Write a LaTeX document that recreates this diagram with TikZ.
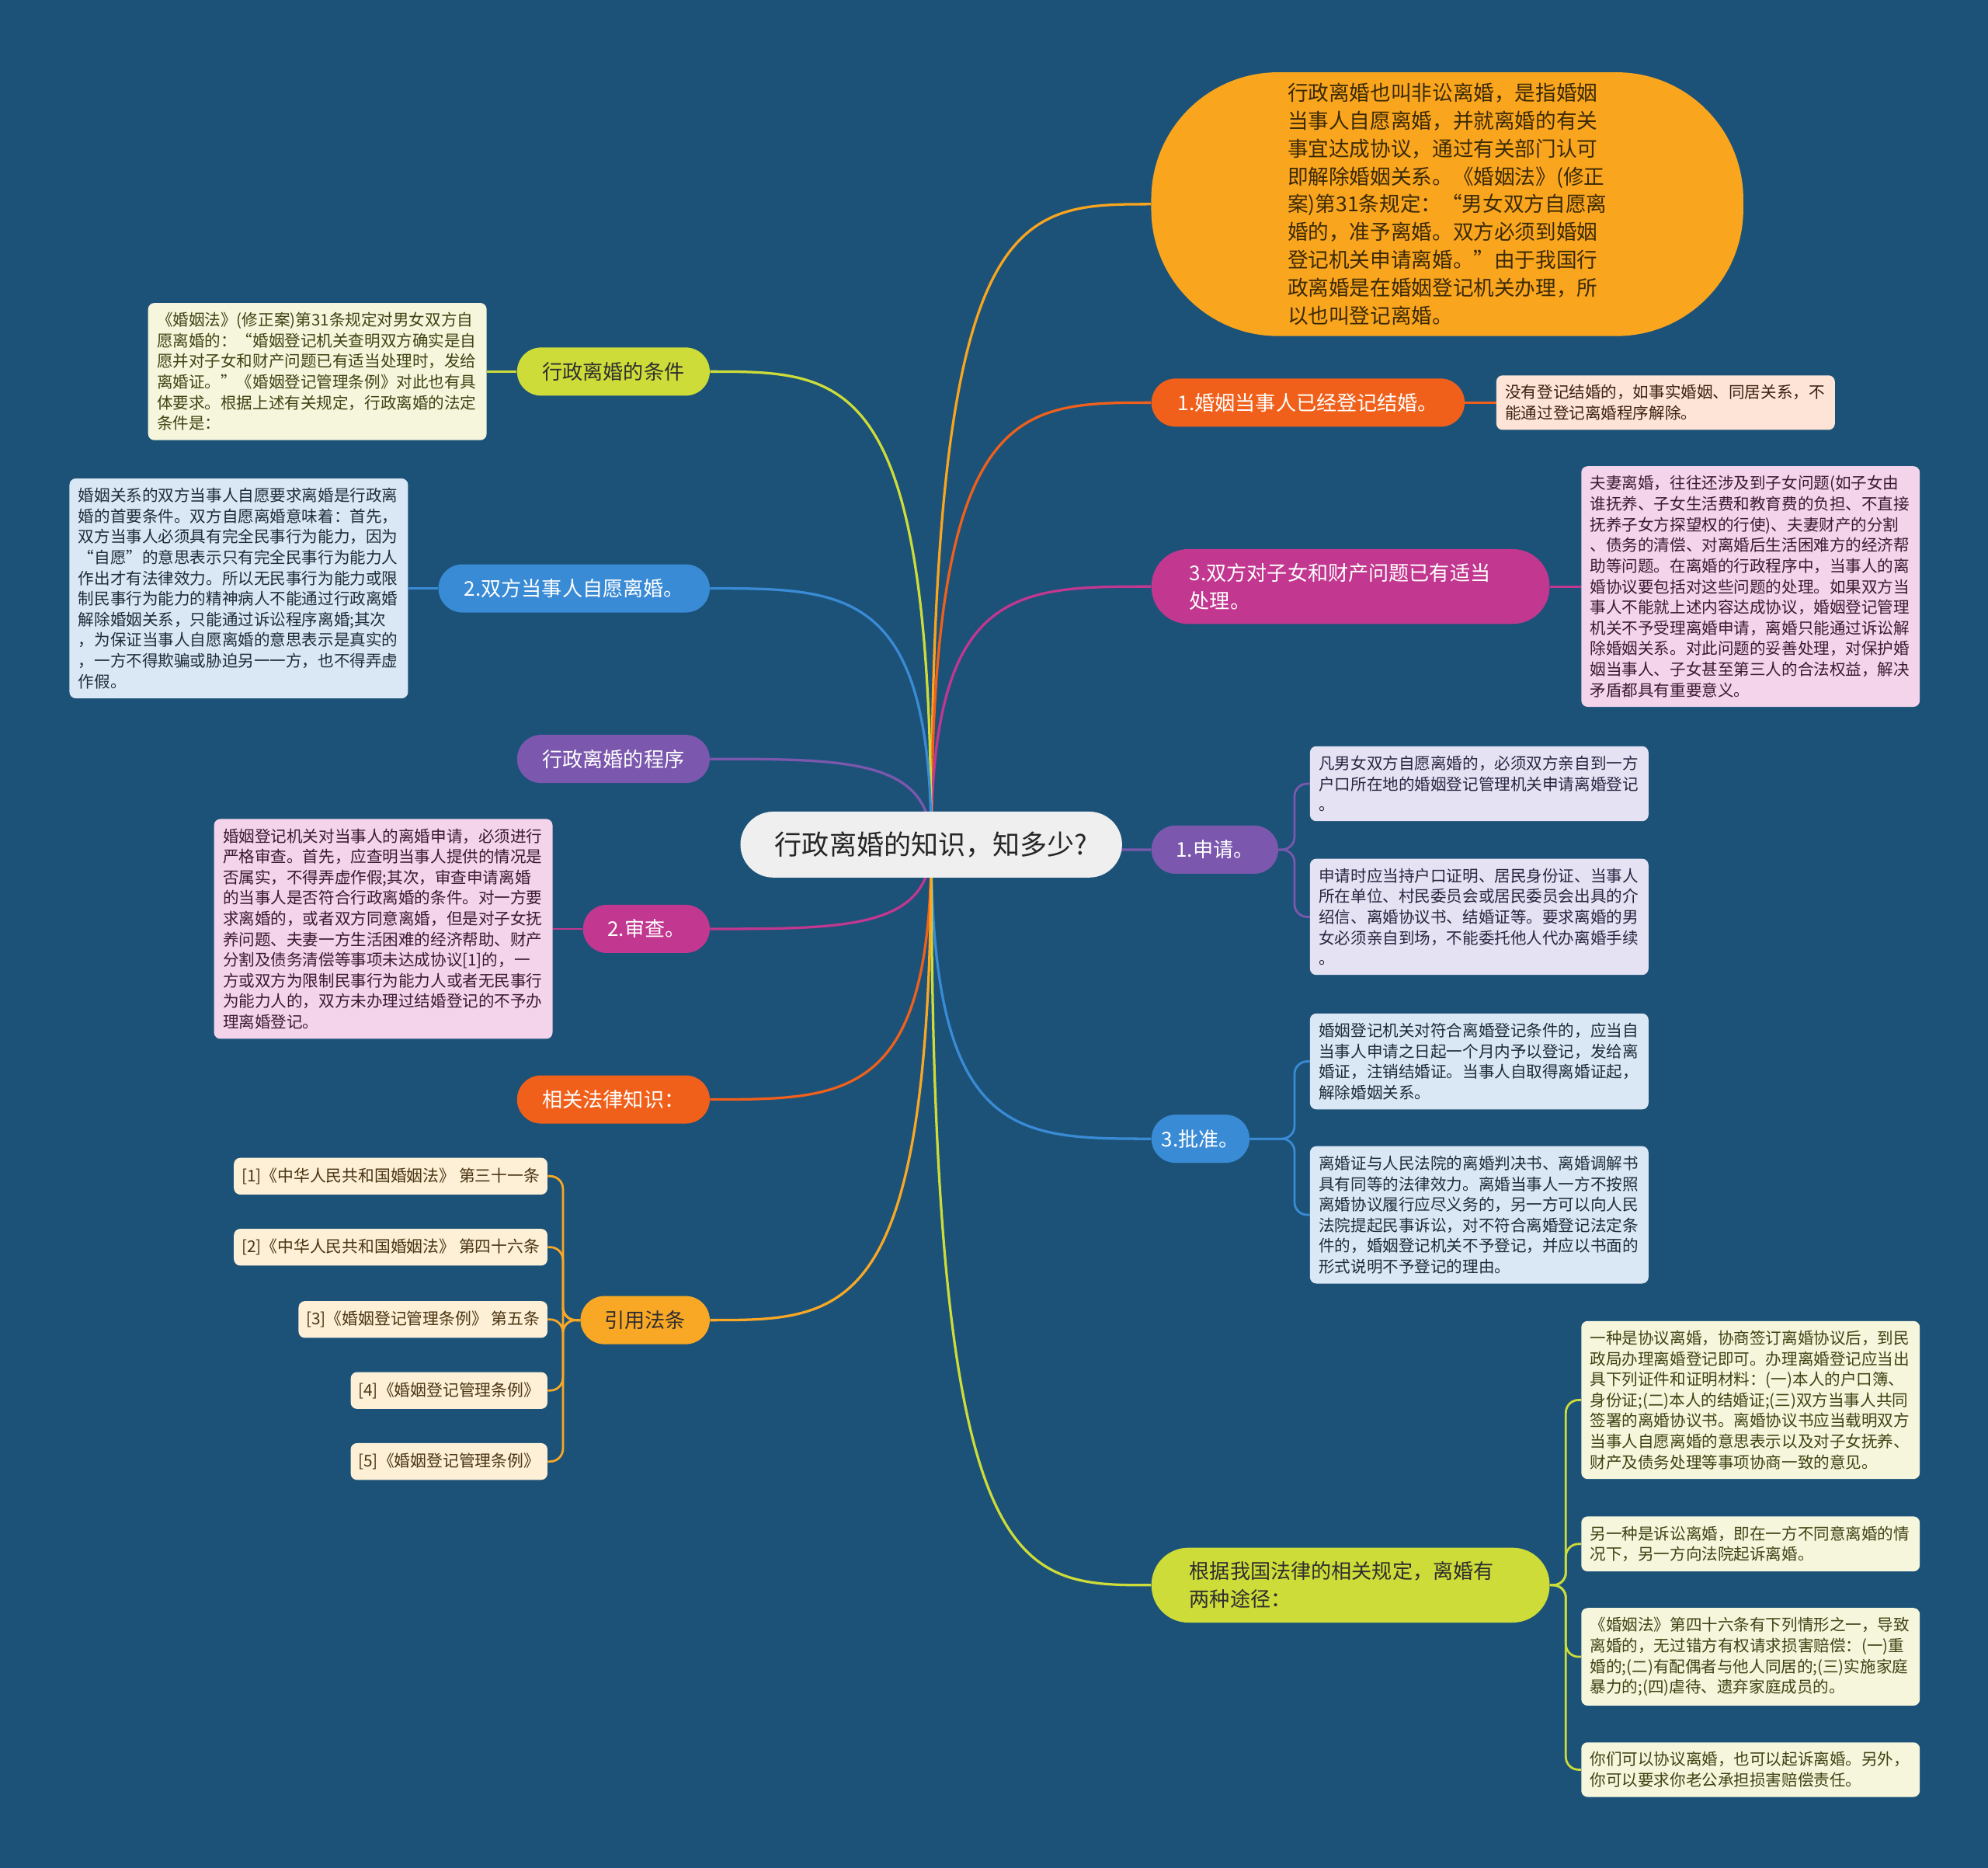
\documentclass[tikz,border=0pt]{standalone}
\usepackage{fontspec}
\setmainfont{Noto Sans CJK SC}
\usetikzlibrary{calc}
\pgfdeclarelayer{bg}
\pgfdeclarelayer{edges}
\pgfsetlayers{bg,edges,main}
\definecolor{bgc}{HTML}{1C5278}
\definecolor{centerc}{HTML}{EFEFEF}
\definecolor{orangeY}{HTML}{FAA51E}
\definecolor{amberC}{HTML}{F9A825}
\definecolor{orangeR}{HTML}{F1601A}
\definecolor{magentaC}{HTML}{C2378F}
\definecolor{purpleC}{HTML}{7B58AE}
\definecolor{blueC}{HTML}{3A8BD6}
\definecolor{limeC}{HTML}{CDDC39}
\definecolor{peachF}{HTML}{FDE4D6}
\definecolor{pinkF}{HTML}{F3D4EA}
\definecolor{lavF}{HTML}{E5E2F3}
\definecolor{lblueF}{HTML}{DAE8F5}
\definecolor{limeF}{HTML}{F6F6DC}
\definecolor{amberF}{HTML}{FDF0D6}
\definecolor{bubText}{HTML}{3B2A05}
\definecolor{limeT}{HTML}{3F4313}
\definecolor{blueT}{HTML}{1E2C3A}
\definecolor{pinkT}{HTML}{3A1A30}
\definecolor{lavT}{HTML}{2A2440}
\definecolor{peachT}{HTML}{3A2010}
\definecolor{amberT}{HTML}{4A3412}
\definecolor{darkT}{HTML}{2E2E2E}
\tikzset{
  root/.style={fill=centerc, rounded corners=26pt, minimum height=52pt, minimum width=301pt,
    font=\fontsize{21.5}{26}\selectfont, text=black!85, inner sep=0pt},
  bubble/.style={fill=orangeY, rounded corners=100pt, minimum width=467pt, minimum height=208pt,
    align=left, font=\fontsize{16.3}{21.9}\selectfont, text=bubText, inner sep=0pt},
  branch/.style={rounded corners=19pt, minimum height=38pt, inner xsep=8pt, inner ysep=0pt,
    font=\fontsize{16}{22}\selectfont, text=white},
  branchtwo/.style={rounded corners=29pt, minimum height=59pt, inner xsep=30pt, inner ysep=0pt,
    text width=254pt, align=left, font=\fontsize{16}{22}\selectfont, text=white},
  detail/.style={rounded corners=5pt, inner xsep=7pt, inner ysep=7.5pt, text width=253pt,
    align=left, font=\fontsize{12.6}{16.3}\selectfont},
  refbox/.style={rounded corners=5pt, inner xsep=6pt, inner ysep=0pt, minimum height=29pt,
    font=\fontsize{12.75}{16}\selectfont, fill=amberF, text=amberT},
  mainedge/.style={line width=2pt},
  subedge/.style={line width=1.7pt, rounded corners=10pt},
}
\begin{document}
\begin{tikzpicture}[x=1pt,y=-1pt]
\useasboundingbox (0,0) rectangle (1568,1473);
\begin{pgfonlayer}{bg}
\fill[bgc] (0,0) rectangle (1568,1473);
\end{pgfonlayer}

% root
\node[root] (root) at (734.5,666) {行政离婚的知识，知多少?};

% right branches
\node[bubble] (bub) at (1141.5,161) {行政离婚也叫非讼离婚，是指婚姻\\当事人自愿离婚，并就离婚的有关\\事宜达成协议，通过有关部门认可\\即解除婚姻关系。《婚姻法》(修正\\案)第31条规定：“男女双方自愿离\\婚的，准予离婚。双方必须到婚姻\\登记机关申请离婚。”由于我国行\\政离婚是在婚姻登记机关办理，所\\以也叫登记离婚。};
\node[branch, fill=orangeR, minimum width=247pt, anchor=west] (b1) at (908,317.5) {1.婚姻当事人已经登记结婚。};
\node[branchtwo, fill=magentaC, anchor=west] (b3) at (908,462.5) {3.双方对子女和财产问题已有适当\\处理。};
\node[branch, fill=purpleC, minimum width=100pt, anchor=west] (bA) at (908,670) {1.申请。};
\node[branch, fill=blueC, minimum width=72pt, anchor=west] (bP) at (908,898) {3.批准。};
\node[branchtwo, fill=limeC, text=darkT, anchor=west] (bG) at (908,1250) {根据我国法律的相关规定，离婚有\\两种途径：};

% left branches
\node[branch, fill=limeC, text=darkT, minimum width=152pt, anchor=east] (lT) at (560,293) {行政离婚的条件};
\node[branch, fill=blueC, minimum width=214pt, anchor=east] (lS) at (560,464) {2.双方当事人自愿离婚。};
\node[branch, fill=purpleC, minimum width=152pt, anchor=east] (lC) at (560,598.5) {行政离婚的程序};
\node[branch, fill=magentaC, minimum width=100pt, anchor=east] (lR) at (560,732.5) {2.审查。};
\node[branch, fill=orangeR, minimum width=152pt, anchor=east] (lK) at (560,867) {相关法律知识：};
\node[branch, fill=amberC, text=darkT, minimum width=102pt, anchor=east] (lY) at (560,1041) {引用法条};

% right details
\node[detail, fill=peachF, text=peachT, anchor=west] (d1) at (1180,317.5) {没有登记结婚的，如事实婚姻、同居关系，不\\能通过登记离婚程序解除。};
\node[detail, fill=pinkF, text=pinkT, anchor=west] (d3) at (1247,462.5) {夫妻离婚，往往还涉及到子女问题(如子女由\\谁抚养、子女生活费和教育费的负担、不直接\\抚养子女方探望权的行使)、夫妻财产的分割\\、债务的清偿、对离婚后生活困难方的经济帮\\助等问题。在离婚的行政程序中，当事人的离\\婚协议要包括对这些问题的处理。如果双方当\\事人不能就上述内容达成协议，婚姻登记管理\\机关不予受理离婚申请，离婚只能通过诉讼解\\除婚姻关系。对此问题的妥善处理，对保护婚\\姻当事人、子女甚至第三人的合法权益，解决\\矛盾都具有重要意义。};
\node[detail, fill=lavF, text=lavT, anchor=west] (dA1) at (1033,618) {凡男女双方自愿离婚的，必须双方亲自到一方\\户口所在地的婚姻登记管理机关申请离婚登记\\。};
\node[detail, fill=lavF, text=lavT, anchor=west] (dA2) at (1033,723) {申请时应当持户口证明、居民身份证、当事人\\所在单位、村民委员会或居民委员会出具的介\\绍信、离婚协议书、结婚证等。要求离婚的男\\女必须亲自到场，不能委托他人代办离婚手续\\。};
\node[detail, fill=lblueF, text=blueT, anchor=west] (dP1) at (1033,837) {婚姻登记机关对符合离婚登记条件的，应当自\\当事人申请之日起一个月内予以登记，发给离\\婚证，注销结婚证。当事人自取得离婚证起，\\解除婚姻关系。};
\node[detail, fill=lblueF, text=blueT, anchor=west] (dP2) at (1033,958) {离婚证与人民法院的离婚判决书、离婚调解书\\具有同等的法律效力。离婚当事人一方不按照\\离婚协议履行应尽义务的，另一方可以向人民\\法院提起民事诉讼，对不符合离婚登记法定条\\件的，婚姻登记机关不予登记，并应以书面的\\形式说明不予登记的理由。};
\node[detail, fill=limeF, text=limeT, anchor=west] (dG1) at (1247,1104) {一种是协议离婚，协商签订离婚协议后，到民\\政局办理离婚登记即可。办理离婚登记应当出\\具下列证件和证明材料：(一)本人的户口簿、\\身份证;(二)本人的结婚证;(三)双方当事人共同\\签署的离婚协议书。离婚协议书应当载明双方\\当事人自愿离婚的意思表示以及对子女抚养、\\财产及债务处理等事项协商一致的意见。};
\node[detail, fill=limeF, text=limeT, anchor=west] (dG2) at (1247,1217.5) {另一种是诉讼离婚，即在一方不同意离婚的情\\况下，另一方向法院起诉离婚。};
\node[detail, fill=limeF, text=limeT, anchor=west] (dG3) at (1247,1306.5) {《婚姻法》第四十六条有下列情形之一，导致\\离婚的，无过错方有权请求损害赔偿：(一)重\\婚的;(二)有配偶者与他人同居的;(三)实施家庭\\暴力的;(四)虐待、遗弃家庭成员的。};
\node[detail, fill=limeF, text=limeT, anchor=west] (dG4) at (1247,1395.5) {你们可以协议离婚，也可以起诉离婚。另外，\\你可以要求你老公承担损害赔偿责任。};

% left details
\node[detail, fill=limeF, text=limeT, anchor=east] (eT) at (384,293) {《婚姻法》(修正案)第31条规定对男女双方自\\愿离婚的：“婚姻登记机关查明双方确实是自\\愿并对子女和财产问题已有适当处理时，发给\\离婚证。”《婚姻登记管理条例》对此也有具\\体要求。根据上述有关规定，行政离婚的法定\\条件是：};
\node[detail, fill=lblueF, text=blueT, anchor=east] (eS) at (322,464) {婚姻关系的双方当事人自愿要求离婚是行政离\\婚的首要条件。双方自愿离婚意味着：首先，\\双方当事人必须具有完全民事行为能力，因为\\“自愿”的意思表示只有完全民事行为能力人\\作出才有法律效力。所以无民事行为能力或限\\制民事行为能力的精神病人不能通过行政离婚\\解除婚姻关系，只能通过诉讼程序离婚;其次\\，为保证当事人自愿离婚的意思表示是真实的\\，一方不得欺骗或胁迫另一一方，也不得弄虚\\作假。};
\node[detail, fill=pinkF, text=pinkT, anchor=east] (eR) at (436,732.5) {婚姻登记机关对当事人的离婚申请，必须进行\\严格审查。首先，应查明当事人提供的情况是\\否属实，不得弄虚作假;其次，审查申请离婚\\的当事人是否符合行政离婚的条件。对一方要\\求离婚的，或者双方同意离婚，但是对子女抚\\养问题、夫妻一方生活困难的经济帮助、财产\\分割及债务清偿等事项未达成协议[1]的，一\\方或双方为限制民事行为能力人或者无民事行\\为能力人的，双方未办理过结婚登记的不予办\\理离婚登记。};

% references
\node[refbox, anchor=east] (r1) at (432,927.5) {[1]《中华人民共和国婚姻法》 第三十一条};
\node[refbox, anchor=east] (r2) at (432,983.5) {[2]《中华人民共和国婚姻法》 第四十六条};
\node[refbox, anchor=east] (r3) at (432,1040.5) {[3]《婚姻登记管理条例》 第五条};
\node[refbox, anchor=east] (r4) at (432,1096.5) {[4]《婚姻登记管理条例》};
\node[refbox, anchor=east] (r5) at (432,1152.5) {[5]《婚姻登记管理条例》};

\begin{pgfonlayer}{edges}
% main edges, right
\draw[mainedge, orangeY] (root.center) .. controls (root.center |- bub.west) and ([xshift=66pt]root.center |- bub.west) .. (bub.west);
\draw[mainedge, orangeR] (root.center) .. controls (root.center |- b1.west) and ([xshift=66pt]root.center |- b1.west) .. (b1.west);
\draw[mainedge, magentaC] (root.center) .. controls (root.center |- b3.west) and ([xshift=66pt]root.center |- b3.west) .. (b3.west);
\draw[mainedge, purpleC] (root.center) .. controls (root.center |- bA.west) and ([xshift=66pt]root.center |- bA.west) .. (bA.west);
\draw[mainedge, blueC] (root.center) .. controls (root.center |- bP.west) and ([xshift=66pt]root.center |- bP.west) .. (bP.west);
\draw[mainedge, limeC] (root.center) .. controls (root.center |- bG.west) and ([xshift=66pt]root.center |- bG.west) .. (bG.west);
% main edges, left
\draw[mainedge, limeC] (root.center) .. controls (root.center |- lT.east) and ([xshift=-66pt]root.center |- lT.east) .. (lT.east);
\draw[mainedge, blueC] (root.center) .. controls (root.center |- lS.east) and ([xshift=-66pt]root.center |- lS.east) .. (lS.east);
\draw[mainedge, purpleC] (root.center) .. controls (root.center |- lC.east) and ([xshift=-66pt]root.center |- lC.east) .. (lC.east);
\draw[mainedge, magentaC] (root.center) .. controls (root.center |- lR.east) and ([xshift=-66pt]root.center |- lR.east) .. (lR.east);
\draw[mainedge, orangeR] (root.center) .. controls (root.center |- lK.east) and ([xshift=-66pt]root.center |- lK.east) .. (lK.east);
\draw[mainedge, amberC] (root.center) .. controls (root.center |- lY.east) and ([xshift=-66pt]root.center |- lY.east) .. (lY.east);
% sub edges, right
\draw[subedge, orangeR] (b1.east) -- (d1.west);
\draw[subedge, magentaC] (b3.east) -- (d3.west);
\foreach \c in {dA1,dA2} \draw[subedge, purpleC] (bA.east) -| ([xshift=-12pt]\c.west) -- (\c.west);
\foreach \c in {dP1,dP2} \draw[subedge, blueC] (bP.east) -| ([xshift=-12pt]\c.west) -- (\c.west);
\foreach \c in {dG1,dG2,dG3,dG4} \draw[subedge, limeC] (bG.east) -| ([xshift=-12pt]\c.west) -- (\c.west);
% sub edges, left
\draw[subedge, limeC] (lT.west) -- (eT.east);
\draw[subedge, blueC] (lS.west) -- (eS.east);
\draw[subedge, magentaC] (lR.west) -- (eR.east);
\foreach \c in {r1,r2,r3,r4,r5} \draw[subedge, amberC] (lY.west) -| ([xshift=12pt]\c.east) -- (\c.east);
\end{pgfonlayer}
\end{tikzpicture}
\end{document}
